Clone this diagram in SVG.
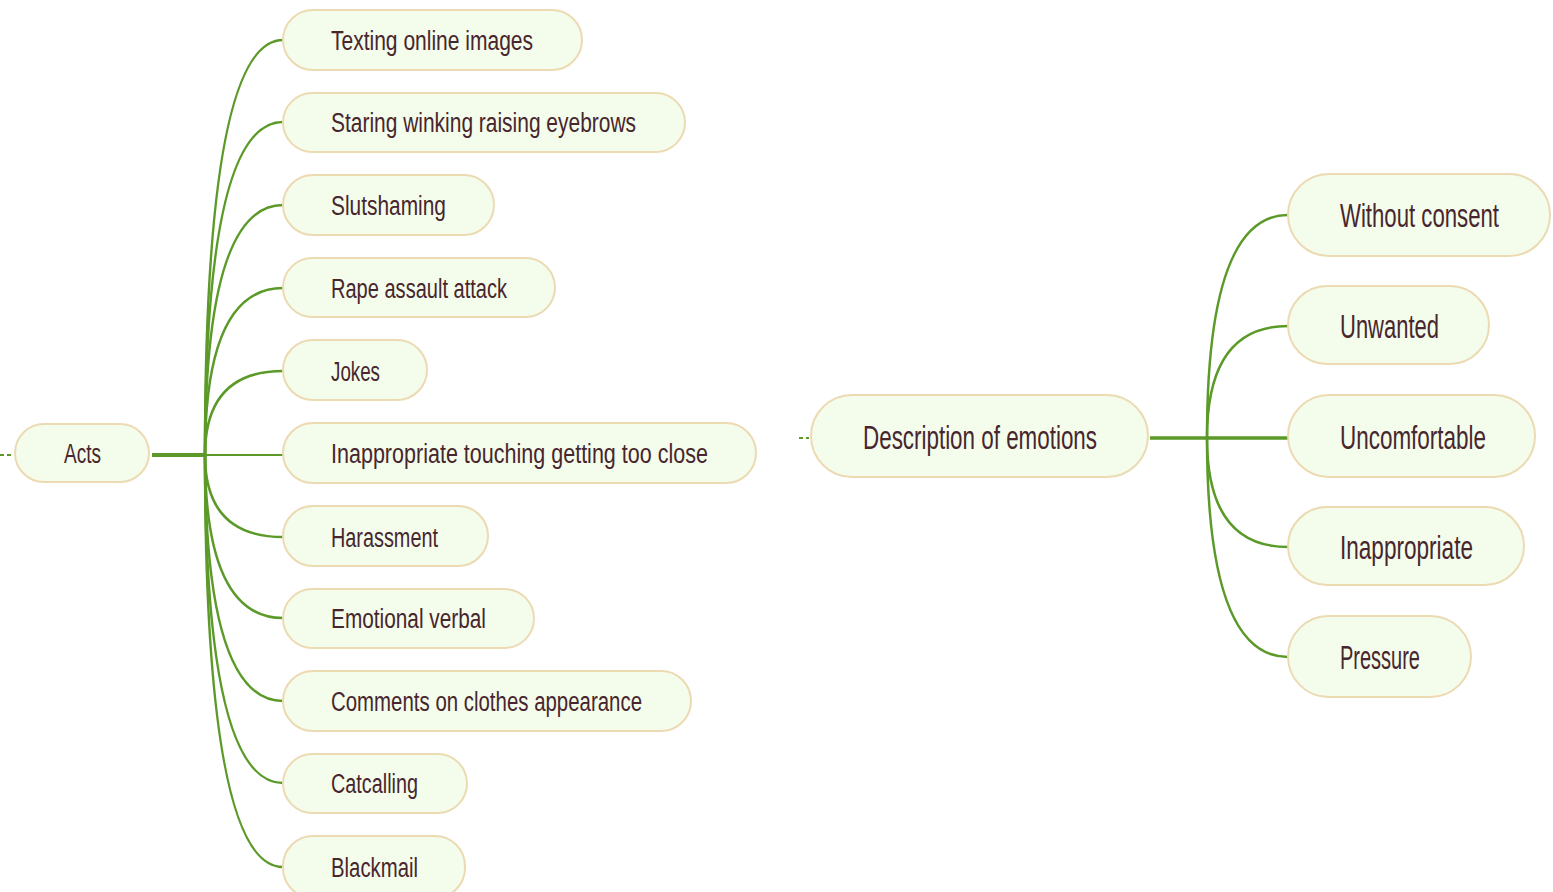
<svg xmlns="http://www.w3.org/2000/svg" width="1553" height="892" viewBox="0 0 1553 892">
  <style>
    .node rect { fill: #f4fcec; stroke: #ecdab2; stroke-width: 2; }
    .node text { font-family: "Liberation Sans", "DejaVu Sans", sans-serif; fill: #47262d; }
    .sm text { font-size: 27px; }
    .lg text { font-size: 33px; }
    .wire { fill: none; stroke: #5b9a28; stroke-width: 2.5; stroke-linecap: round; }
    .trunk { fill: none; stroke: #5b9a28; stroke-width: 4; }
    .stub { fill: none; stroke: #5b9a28; stroke-width: 2; stroke-dasharray: 4 3; }
  </style>

  <!-- connectors -->
  <g id="connectors">
    <path class="stub" d="M0,455 H14"/>
    <path class="trunk" d="M152,455 H205"/>
    <path class="wire" d="M205,455 Q205,40 283,40"/>
    <path class="wire" d="M205,455 Q205,122 283,122"/>
    <path class="wire" d="M205,455 Q205,205 283,205"/>
    <path class="wire" d="M205,455 Q205,288 283,288"/>
    <path class="wire" d="M205,455 Q205,371 283,371"/>
    <path class="wire" d="M205,455 H283" style="stroke-width:2"/>
    <path class="wire" d="M205,455 Q205,537 283,537"/>
    <path class="wire" d="M205,455 Q205,618 283,618"/>
    <path class="wire" d="M205,455 Q205,701 283,701"/>
    <path class="wire" d="M205,455 Q205,783 283,783"/>
    <path class="wire" d="M205,455 Q205,867 283,867"/>

    <path class="stub" d="M799,438 H809"/>
    <path class="trunk" d="M1150,438 H1288" style="stroke-width:3.5"/>
    <path class="wire" d="M1207,438 Q1207,215 1288,215"/>
    <path class="wire" d="M1207,438 Q1207,326 1288,326"/>
    <path class="wire" d="M1207,438 Q1207,547 1288,547"/>
    <path class="wire" d="M1207,438 Q1207,657 1288,657"/>
  </g>

  <!-- left cluster -->
  <g id="acts" class="node sm">
    <rect x="15" y="424" width="134" height="58" rx="29"/>
    <text x="64" y="463" textLength="37" lengthAdjust="spacingAndGlyphs">Acts</text>
  </g>
  <g id="texting" class="node sm">
    <rect x="283" y="10" width="299" height="60" rx="30"/>
    <text x="331" y="50" textLength="202" lengthAdjust="spacingAndGlyphs">Texting online images</text>
  </g>
  <g id="staring" class="node sm">
    <rect x="283" y="93" width="402" height="59" rx="29.5"/>
    <text x="331" y="132" textLength="305" lengthAdjust="spacingAndGlyphs">Staring winking raising eyebrows</text>
  </g>
  <g id="slutshaming" class="node sm">
    <rect x="283" y="175" width="211" height="60" rx="30"/>
    <text x="331" y="215" textLength="115" lengthAdjust="spacingAndGlyphs">Slutshaming</text>
  </g>
  <g id="rape" class="node sm">
    <rect x="283" y="258" width="272" height="59" rx="29.5"/>
    <text x="331" y="298" textLength="176" lengthAdjust="spacingAndGlyphs">Rape assault attack</text>
  </g>
  <g id="jokes" class="node sm">
    <rect x="283" y="340" width="144" height="60" rx="30"/>
    <text x="331" y="381" textLength="49" lengthAdjust="spacingAndGlyphs">Jokes</text>
  </g>
  <g id="touching" class="node sm">
    <rect x="283" y="423" width="473" height="60" rx="30"/>
    <text x="331" y="463" textLength="377" lengthAdjust="spacingAndGlyphs">Inappropriate touching getting too close</text>
  </g>
  <g id="harassment" class="node sm">
    <rect x="283" y="506" width="205" height="60" rx="30"/>
    <text x="331" y="547" textLength="107" lengthAdjust="spacingAndGlyphs">Harassment</text>
  </g>
  <g id="emotional" class="node sm">
    <rect x="283" y="589" width="251" height="59" rx="29.5"/>
    <text x="331" y="628" textLength="155" lengthAdjust="spacingAndGlyphs">Emotional verbal</text>
  </g>
  <g id="comments" class="node sm">
    <rect x="283" y="671" width="408" height="60" rx="30"/>
    <text x="331" y="711" textLength="311" lengthAdjust="spacingAndGlyphs">Comments on clothes appearance</text>
  </g>
  <g id="catcalling" class="node sm">
    <rect x="283" y="754" width="184" height="59" rx="29.5"/>
    <text x="331" y="793" textLength="87" lengthAdjust="spacingAndGlyphs">Catcalling</text>
  </g>
  <g id="blackmail" class="node sm">
    <rect x="283" y="836" width="182" height="62" rx="30"/>
    <text x="331" y="877" textLength="87" lengthAdjust="spacingAndGlyphs">Blackmail</text>
  </g>

  <!-- right cluster -->
  <g id="description" class="node lg">
    <rect x="811" y="395" width="337" height="82" rx="41"/>
    <text x="863" y="449" textLength="234" lengthAdjust="spacingAndGlyphs">Description of emotions</text>
  </g>
  <g id="consent" class="node lg">
    <rect x="1288" y="174" width="262" height="82" rx="41"/>
    <text x="1340" y="227" textLength="159" lengthAdjust="spacingAndGlyphs">Without consent</text>
  </g>
  <g id="unwanted" class="node lg">
    <rect x="1288" y="286" width="201" height="78" rx="39"/>
    <text x="1340" y="338" textLength="99" lengthAdjust="spacingAndGlyphs">Unwanted</text>
  </g>
  <g id="uncomfortable" class="node lg">
    <rect x="1288" y="395" width="247" height="82" rx="41"/>
    <text x="1340" y="449" textLength="146" lengthAdjust="spacingAndGlyphs">Uncomfortable</text>
  </g>
  <g id="inappropriate" class="node lg">
    <rect x="1288" y="507" width="236" height="78" rx="39"/>
    <text x="1340" y="559" textLength="133" lengthAdjust="spacingAndGlyphs">Inappropriate</text>
  </g>
  <g id="pressure" class="node lg">
    <rect x="1288" y="616" width="183" height="81" rx="40.5"/>
    <text x="1340" y="669" textLength="80" lengthAdjust="spacingAndGlyphs">Pressure</text>
  </g>
</svg>
